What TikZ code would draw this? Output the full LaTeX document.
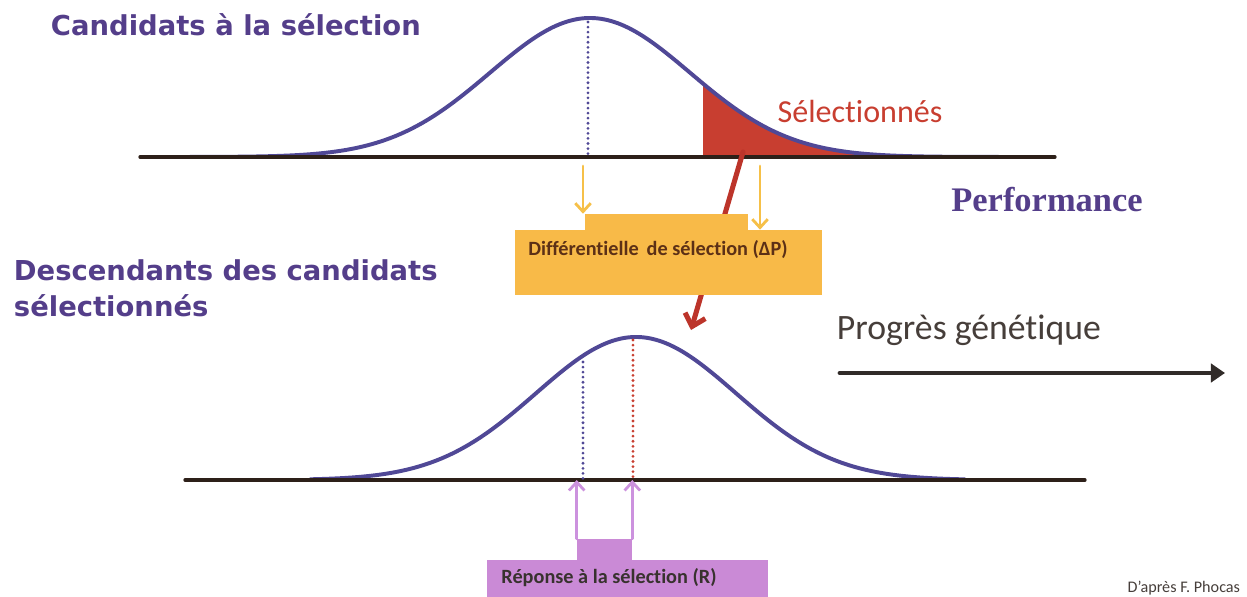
\documentclass[tikz,border=0pt]{standalone}
\usepackage{fontspec}
\setmainfont{Carlito}[RawFeature={-liga;-calt;-dlig}]
\newfontfamily\titlefont{DejaVu Sans}
\newfontfamily\perffont{Liberation Serif}
\usetikzlibrary{arrows.meta}

\definecolor{titlepurple}{RGB}{84,62,138}
\definecolor{curveblue}{RGB}{80,72,150}
\definecolor{axisline}{RGB}{45,32,25}
\definecolor{selred}{RGB}{200,62,48}
\definecolor{arrowred}{RGB}{188,52,42}
\definecolor{boxyellow}{RGB}{248,186,72}
\definecolor{arrowyellow}{RGB}{246,192,72}
\definecolor{boxpink}{RGB}{202,138,214}
\definecolor{arrowpink}{RGB}{204,146,222}
\definecolor{textdark}{RGB}{70,62,58}
\definecolor{boxtext}{RGB}{92,48,22}

\begin{document}
\begin{tikzpicture}[x=0.025cm,y=-0.025cm,line cap=round]
  % Styles
  \tikzset{
    axis/.style={draw=axisline,line width=2.3pt},
    curve/.style={draw=curveblue,line width=2.8pt},
    mean line/.style={line width=2.2pt,line cap=round,dash pattern=on 0pt off 3.6pt},
    title/.style={anchor=west,align=left,text=titlepurple,
      font=\titlefont\bfseries\fontsize{19.5}{25.5}\selectfont},
    yarrow/.style={draw=arrowyellow,line width=2pt,
      -{Straight Barb[length=6pt,width=11pt]}},
    parrow/.style={draw=arrowpink,line width=2pt,
      -{Straight Barb[length=6pt,width=11pt]}},
    ybox/.style={fill=boxyellow,inner sep=0pt},
    pbox/.style={fill=boxpink,inner sep=0pt},
    boxlabel/.style={font=\bfseries\fontsize{14.4}{16}\selectfont,text=boxtext}
  }
  \useasboundingbox (0,0) rectangle (1247,597);

  % Texts
  \node[title] (topttl) at (46,25) {Candidats à la sélection};
  \node[title] (botttl) at (9,288) {Descendants des candidats\\sélectionnés};
  \node[font=\perffont\bfseries\fontsize{24.5}{28}\selectfont,text=titlepurple]
    (perf) at (1047,200) {Performance};
  \node[font=\fontsize{25.4}{30}\selectfont,text=textdark,anchor=west]
    (progres) at (832,330) {Progrès génétique};
  \node[font=\fontsize{11.5}{13}\selectfont,text=textdark,anchor=east]
    (source) at (1245,588) {D’après F. Phocas};

  % Candidates
  \fill[selred] (703,157) -- plot[domain=703:880,samples=40]
    (\x,{157-139*exp(-0.5*((\x-590)/100)^2)}) -- (880,157) -- cycle;
  \draw[curve] plot[domain=190:1005,samples=120,smooth]
    (\x,{157-139*exp(-0.5*((\x-590)/100)^2)});
  \draw[axis] (140,157) coordinate (ta) -- (1055,157) coordinate (tb);
  \draw[mean line,curveblue] (588,22) -- (588,157);
  \node[font=\fontsize{22.8}{26}\selectfont,text=selred] (seltext) at (860,111) {Sélectionnés};

  % Selected -> offspring
  \coordinate (selfoot) at (743,152);
  \coordinate (redtip) at (691,330);
  \draw[arrowred,line width=3.6pt,-{Straight Barb[length=8pt,width=15pt]}] (selfoot) -- (redtip);

  % Selection differential
  \node[ybox,minimum width=4.075cm,minimum height=0.45cm] (difftab) at (666.5,223) {};
  \node[ybox,minimum width=7.675cm,minimum height=1.625cm] (diffbox) at (668.5,262.5) {};
  \node[boxlabel] (difftext) at (658,250) {Différentielle\, de sélection (ΔP)};
  \coordinate (ym1) at (583,166);
  \coordinate (ym2) at (760,166);
  \draw[yarrow] (ym1) -- (ym1 |- difftab.north);
  \draw[yarrow] (ym2) -- (ym2 |- diffbox.north);

  % Offspring
  \draw[curve] plot[domain=310:965,samples=120,smooth]
    (\x,{480-143*exp(-0.5*((\x-636)/100)^2)});
  \draw[axis] (185,480) coordinate (ba) -- (1085,480) coordinate (bb);
  \draw[mean line,curveblue] (583,362) -- (583,480);
  \draw[mean line,selred] (633,340) -- (633,480);

  % Response
  \node[pbox,minimum width=1.375cm,minimum height=0.55cm] (resptab) at (604.5,550) {};
  \node[pbox,minimum width=7.025cm,minimum height=0.95cm] (respbox) at (627.5,578.5) {};
  \node[boxlabel,text=textdark!80!black] (resptext) at (609,578) {Réponse à la sélection (R)};
  \draw[parrow] (resptab.north west) coordinate (rp1) -- (rp1 |- ba);
  \draw[parrow] (resptab.north east) coordinate (rp2) -- (rp2 |- ba);

  % Genetic progress
  \coordinate (gs) at (840,373);
  \coordinate (ge) at (1225,373);
  \draw[textdark!70!black,line width=3.4pt,-{Triangle[length=10pt,width=13pt]}] (gs) -- (ge);
\end{tikzpicture}
\end{document}
